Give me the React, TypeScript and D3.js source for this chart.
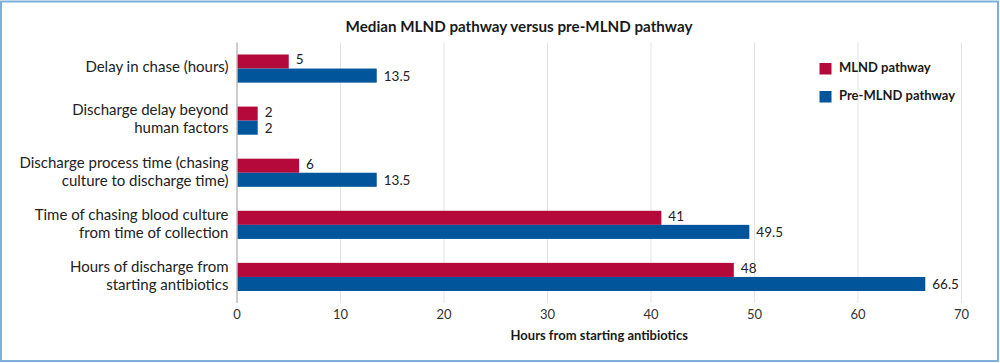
import React from "react";
import * as d3 from "d3";

const categories: string[][] = [
  ["Delay in chase (hours)"],
  ["Discharge delay beyond", "human factors"],
  ["Discharge process time (chasing", "culture to discharge time)"],
  ["Time of chasing blood culture", "from time of collection"],
  ["Hours of discharge from", "starting antibiotics"],
];
const mlndValues = [5, 2, 6, 41, 48];
const preMlndValues = [13.5, 2, 13.5, 49.5, 66.5];
const seriesNames = ["MLND pathway", "Pre-MLND pathway"];
const xTicks = [0, 10, 20, 30, 40, 50, 60, 70];

const W = 1000;
const H = 363;
const RED = "#B5093C";
const BLUE = "#00559B";
const FONT = "Lato, 'Open Sans', sans-serif";

export default function App() {
  const x = d3.scaleLinear().domain([0, 70]).range([237, 961.5]);
  const y = d3
    .scaleBand<number>()
    .domain(d3.range(categories.length))
    .range([42.5, 303])
    .paddingInner(0.46)
    .paddingOuter(0.23);
  const sub = d3.scaleBand<number>().domain([0, 1]).range([0, y.bandwidth()]);
  const series = [mlndValues, preMlndValues];
  const colors = [RED, BLUE];
  const labelShift = [-0.5, 2];

  return (
    <svg
      width={W}
      height={H}
      style={{ position: "absolute", left: 0, top: 0, display: "block", background: "#fff" }}
      fontFamily={FONT}
    >
      <rect x={1} y={1.5} width={997} height={359.5} fill="#fff" stroke="#7DAFD9" strokeWidth={2} />
      <text x={519} y={32} textAnchor="middle" fontSize={15.2} fontWeight={700} fill="#1a1a1a">
        Median MLND pathway versus pre-MLND pathway
      </text>
      {/* gridlines */}
      {xTicks.slice(1).map((t) => (
        <line key={t} x1={x(t)} x2={x(t)} y1={42.5} y2={303} stroke="#E3E3E3" strokeWidth={1} />
      ))}
      {/* bars */}
      {series.map((vals, si) =>
        vals.map((v, i) => (
          <g key={`${si}-${i}`}>
            <rect
              x={x(0)}
              y={(y(i) as number) + (sub(si) as number)}
              width={x(v) - x(0)}
              height={sub.bandwidth()}
              fill={colors[si]}
            />
            <text
              x={x(v) + 7}
              y={(y(i) as number) + (sub(si) as number) + sub.bandwidth() / 2 + labelShift[si]}
              dominantBaseline="middle"
              fontSize={13.5}
              fill="#222"
            >
              {v}
            </text>
          </g>
        ))
      )}
      {/* y axis line */}
      <line x1={x(0)} x2={x(0)} y1={42.5} y2={303} stroke="#BDBDBD" strokeWidth={1.5} />
      {/* category labels */}
      {categories.map((lines, i) => {
        const cy = (y(i) as number) + y.bandwidth() / 2;
        const lh = 18;
        const start = cy - ((lines.length - 1) * lh) / 2;
        return (
          <text key={i} textAnchor="end" fontSize={15} fill="#222">
            {lines.map((l, j) => (
              <tspan key={j} x={228.5} y={start + j * lh} dominantBaseline="middle">
                {l}
              </tspan>
            ))}
          </text>
        );
      })}
      {/* x tick labels */}
      {xTicks.map((t) => (
        <text key={t} x={x(t)} y={315.5} textAnchor="middle" dominantBaseline="middle" fontSize={13} fill="#333">
          {t}
        </text>
      ))}
      <text x={(x(0) + x(70)) / 2} y={337} textAnchor="middle" dominantBaseline="middle" fontSize={13} fontWeight={700} fill="#1a1a1a">
        Hours from starting antibiotics
      </text>
      {/* legend */}
      {seriesNames.map((n, i) => (
        <g key={n}>
          <rect x={819.5} y={63 + i * 28} width={12} height={11.5} fill={colors[i]} />
          <text x={839} y={69 + i * 28} dominantBaseline="middle" fontSize={13} fontWeight={700} fill="#1a1a1a">
            {n}
          </text>
        </g>
      ))}
    </svg>
  );
}
